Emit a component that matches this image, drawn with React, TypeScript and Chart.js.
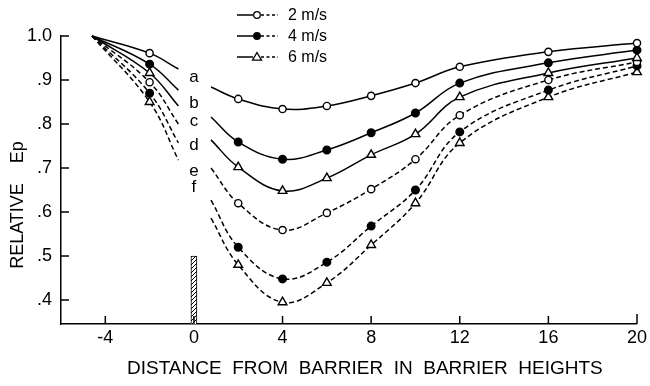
import React, { useEffect, useRef } from 'react';
import { Chart, registerables } from 'chart.js';

Chart.register(...registerables);

// ---- data ----
const X_LEFT = [-4.6, -2, -0.7];
const X_RIGHT = [0.77, 2, 4, 6, 8, 10, 12, 16, 20];
const MARKER_X = [-2, 2, 4, 6, 8, 10, 12, 16, 20];

const A_LEFT = [1.0, 0.961, 0.925];
const A_RIGHT = [0.884, 0.857, 0.834, 0.841, 0.864, 0.893, 0.93, 0.964, 0.984];
const B_LEFT = [1.0, 0.936, 0.877];
const B_RIGHT = [0.816, 0.759, 0.72, 0.741, 0.78, 0.825, 0.893, 0.939, 0.968];
const C_LEFT = [1.0, 0.916, 0.841];
const C_RIGHT = [0.764, 0.702, 0.648, 0.677, 0.73, 0.777, 0.861, 0.916, 0.95];
const D_LEFT = [1.0, 0.895, 0.8];
const D_RIGHT = [0.7, 0.62, 0.559, 0.598, 0.652, 0.72, 0.82, 0.9, 0.941];
const E_LEFT = [1.0, 0.87, 0.757];
const E_RIGHT = [0.627, 0.52, 0.448, 0.486, 0.568, 0.65, 0.782, 0.877, 0.932];
const F_LEFT = [1.0, 0.85, 0.718];
const F_RIGHT = [0.586, 0.48, 0.395, 0.439, 0.525, 0.62, 0.757, 0.861, 0.918];

const CURVE_LABELS = ['a', 'b', 'c', 'd', 'e', 'f'];
const CURVE_LABEL_Y = [0.907, 0.848, 0.805, 0.752, 0.693, 0.655];
const LEGEND_LABELS = ['2 m/s', '4 m/s', '6 m/s'];

const BARRIER_X = [0];
const BARRIER_Y = [0.5];

const X_TICKS = [-4, 0, 4, 8, 12, 16, 20];
const X_TICK_LABELS = ['-4', '0', '4', '8', '12', '16', '20'];
const Y_TICKS = [0.4, 0.5, 0.6, 0.7, 0.8, 0.9, 1.0];
const Y_TICK_LABELS = ['.4', '.5', '.6', '.7', '.8', '.9', '1.0'];

const X_TITLE = '      DISTANCE  FROM  BARRIER  IN  BARRIER  HEIGHTS';
const Y_TITLE = 'RELATIVE    Ep          ';

const FONT = "'Liberation Sans', Arial, sans-serif";

function series(left: number[], right: number[]) {
  return [
    ...X_LEFT.map((x, i) => ({ x, y: left[i] })),
    { x: 0.05, y: null },
    ...X_RIGHT.map((x, i) => ({ x, y: right[i] })),
  ];
}

const STYLES = [
  { style: 'circle', fill: '#fff', r: 3.6 },
  { style: 'circle', fill: '#000', r: 3.8 },
  { style: 'triangle', fill: '#fff', r: 5 },
];

function lineDs(label: string, data: any[], kind: number, dashed: boolean) {
  const s = STYLES[kind];
  return {
    type: 'line',
    label,
    data,
    borderColor: '#000',
    borderWidth: 1.5,
    borderDash: dashed ? [5, 3] : [],
    tension: 0.4,
    fill: false,
    spanGaps: false,
    clip: false,
    pointStyle: s.style,
    pointBackgroundColor: s.fill,
    pointBorderColor: '#000',
    pointBorderWidth: 1.4,
    pointRadius: (ctx: any) => (ctx.raw && MARKER_X.includes(ctx.raw.x) ? s.r : 0),
    pointHoverRadius: 0,
  };
}

function makePattern(): CanvasPattern | string {
  const c = document.createElement('canvas');
  c.width = 4;
  c.height = 4;
  const g = c.getContext('2d');
  if (!g) return '#888';
  g.fillStyle = '#fff';
  g.fillRect(0, 0, 4, 4);
  g.strokeStyle = '#000';
  g.lineWidth = 1;
  g.beginPath();
  g.moveTo(0, 4);
  g.lineTo(4, 0);
  g.stroke();
  const p = g.createPattern(c, 'repeat');
  return p || '#888';
}

const decorPlugin = {
  id: 'decor',
  afterDatasetsDraw(chart: any) {
    const { ctx, chartArea, scales } = chart;
    const xs = scales.x;
    const ys = scales.y;
    ctx.save();
    ctx.strokeStyle = '#000';
    ctx.lineWidth = 1.5;
    // inward tick marks
    X_TICKS.forEach((v) => {
      const px = xs.getPixelForValue(v);
      ctx.beginPath();
      ctx.moveTo(px, chartArea.bottom);
      ctx.lineTo(px, chartArea.bottom - (v === 20 ? 10 : 8));
      ctx.stroke();
    });
    Y_TICKS.forEach((v) => {
      const py = ys.getPixelForValue(v);
      ctx.beginPath();
      ctx.moveTo(chartArea.left, py);
      ctx.lineTo(chartArea.left + 8, py);
      ctx.stroke();
    });
    // curve labels
    ctx.fillStyle = '#000';
    ctx.font = `17px ${FONT}`;
    ctx.textAlign = 'center';
    ctx.textBaseline = 'middle';
    const lx = xs.getPixelForValue(0);
    CURVE_LABELS.forEach((t, i) => {
      ctx.fillText(t, lx, ys.getPixelForValue(CURVE_LABEL_Y[i]));
    });
    // legend
    LEGEND_LABELS.forEach((t, i) => {
      const y = 15 + i * 21;
      ctx.lineWidth = 1.5;
      ctx.setLineDash([]);
      ctx.beginPath();
      ctx.moveTo(237, y);
      ctx.lineTo(253, y);
      ctx.stroke();
      ctx.setLineDash([3, 2.5]);
      ctx.beginPath();
      ctx.moveTo(261, y);
      ctx.lineTo(278, y);
      ctx.stroke();
      ctx.setLineDash([]);
      const s = STYLES[i];
      ctx.fillStyle = s.fill;
      ctx.lineWidth = 1.3;
      ctx.beginPath();
      if (s.style === 'circle') {
        ctx.arc(257, y, 3.3, 0, Math.PI * 2);
      } else {
        ctx.moveTo(257, y - 4.5);
        ctx.lineTo(261.5, y + 3.2);
        ctx.lineTo(252.5, y + 3.2);
        ctx.closePath();
      }
      ctx.fill();
      ctx.stroke();
      ctx.fillStyle = '#000';
      ctx.font = `16px ${FONT}`;
      ctx.textAlign = 'left';
      ctx.fillText(t, 288, y + 1);
    });
    ctx.restore();
  },
};

export default function App() {
  const ref = useRef<HTMLCanvasElement | null>(null);
  useEffect(() => {
    document.body.style.margin = '0';
    if (!ref.current) return;
    const pattern = makePattern();
    const chart = new Chart(ref.current, {
      type: 'line',
      data: {
        datasets: [
          {
            type: 'bar',
            label: 'barrier',
            data: BARRIER_X.map((x, i) => ({ x, y: BARRIER_Y[i] })),
            backgroundColor: pattern,
            borderColor: '#000',
            borderWidth: 1,
            barThickness: 6,
          } as any,
          lineDs('a', series(A_LEFT, A_RIGHT), 0, false),
          lineDs('b', series(B_LEFT, B_RIGHT), 1, false),
          lineDs('c', series(C_LEFT, C_RIGHT), 2, false),
          lineDs('d', series(D_LEFT, D_RIGHT), 0, true),
          lineDs('e', series(E_LEFT, E_RIGHT), 1, true),
          lineDs('f', series(F_LEFT, F_RIGHT), 2, true),
        ] as any,
      },
      options: {
        animation: false,
        responsive: false,
        events: [],
        layout: { padding: { top: 36, right: 12, left: 0, bottom: 0 } },
        plugins: { legend: { display: false }, tooltip: { enabled: false } },
        scales: {
          x: {
            type: 'linear',
            min: -6,
            max: 20,
            offset: false,
            grid: { display: false, drawTicks: false, offset: false },
            border: { display: true, color: '#000', width: 1.5 },
            afterBuildTicks: (s: any) => {
              s.ticks = X_TICKS.map((v) => ({ value: v }));
            },
            afterFit: (s: any) => {
              s.height = 62;
            },
            ticks: {
              color: '#000',
              padding: 3,
              maxRotation: 0,
              autoSkip: false,
              font: { family: FONT, size: 18 },
              callback: (v: any) => {
                const i = X_TICKS.indexOf(Number(v));
                return i >= 0 ? X_TICK_LABELS[i] : '';
              },
            },
            title: {
              display: true,
              text: X_TITLE,
              color: '#000',
              font: { family: FONT, size: 19 },
              padding: { top: 0, bottom: 6 },
            },
          },
          y: {
            type: 'linear',
            min: 0.3455,
            max: 1.0,
            grid: { display: false, drawTicks: false },
            border: { display: true, color: '#000', width: 1.5 },
            afterBuildTicks: (s: any) => {
              s.ticks = Y_TICKS.map((v) => ({ value: v }));
            },
            afterFit: (s: any) => {
              s.width = 61;
            },
            ticks: {
              color: '#000',
              padding: 9,
              autoSkip: false,
              font: { family: FONT, size: 18 },
              callback: (v: any) => {
                const i = Y_TICKS.findIndex((t) => Math.abs(t - Number(v)) < 1e-6);
                return i >= 0 ? Y_TICK_LABELS[i] : '';
              },
            },
            title: {
              display: true,
              text: Y_TITLE,
              color: '#000',
              font: { family: FONT, size: 18 },
              padding: { top: 7, bottom: 0 },
            },
          },
        },
      } as any,
      plugins: [decorPlugin],
    });
    return () => chart.destroy();
  }, []);
  return (
    <div style={{ width: 650, height: 386 }}>
      <canvas ref={ref} width={650} height={386} />
    </div>
  );
}
